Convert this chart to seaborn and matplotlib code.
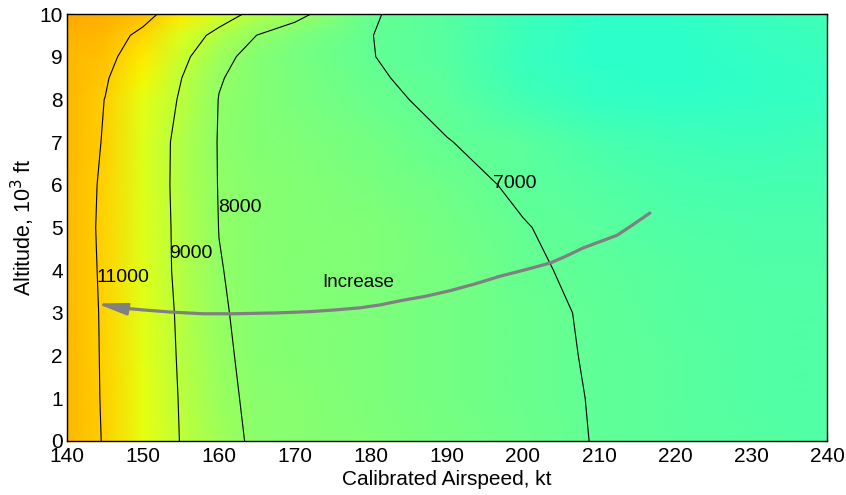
import numpy as np
import pandas as pd
import matplotlib
matplotlib.use("Agg")
import matplotlib.pyplot as plt
import seaborn as sns
from matplotlib.colors import Normalize

# ---------------- data ----------------
airspeed_kt = [140, 145, 150, 155, 160, 165, 170, 180, 190, 200, 210, 220, 230, 240]
altitude_kft = [0, 1, 2, 3, 4, 5, 6, 7, 8, 8.5, 9, 9.5, 10]

row_alt0 = [11450, 10950, 9920, 8960, 8330, 7840, 7780, 7620, 7420, 7200, 6970, 6800, 6700, 6620]
row_alt1 = [11450, 10930, 9880, 8926, 8200, 7830, 7760, 7600, 7400, 7180, 6960, 6790, 6690, 6620]
row_alt2 = [11450, 10920, 9820, 8880, 8130, 7810, 7740, 7580, 7380, 7160, 6940, 6770, 6670, 6600]
row_alt3 = [11400, 10920, 9760, 8840, 8080, 7790, 7730, 7600, 7400, 7150, 6920, 6740, 6650, 6600]
row_alt4 = [11380, 10900, 9700, 8770, 8030, 7790, 7740, 7640, 7450, 7100, 6850, 6700, 6620, 6580]
row_alt5 = [11370, 10880, 9700, 8750, 7990, 7780, 7730, 7620, 7400, 7030, 6780, 6600, 6520, 6500]
row_alt6 = [11380, 10900, 9680, 8720, 7970, 7780, 7720, 7500, 7200, 6900, 6650, 6450, 6380, 6380]
row_alt7 = [11420, 10950, 9700, 8730, 7960, 7750, 7650, 7350, 7020, 6780, 6450, 6250, 6200, 6250]
row_alt8 = [11450, 10990, 9840, 8900, 7980, 7700, 7500, 7150, 6850, 6300, 5950, 5900, 5950, 6050]
row_alt8h = [11450, 11100, 10150, 9020, 8050, 7700, 7480, 7070, 6800, 6200, 5870, 5850, 5920, 6020]
row_alt9 = [11350, 11250, 10500, 9250, 8250, 7700, 7450, 7020, 6700, 6100, 5800, 5800, 5950, 6100]
row_alt9h = [11500, 11400, 10800, 9600, 8700, 7990, 7600, 7010, 6700, 6150, 5850, 5850, 6000, 6180]
row_alt10 = [11700, 11600, 11300, 10500, 9500, 8700, 8250, 7050, 6700, 6200, 5900, 5920, 6080, 6250]

contour_levels = [7000, 8000, 9000, 11000]
label_kt = [196.0, 159.9, 153.5, 143.9]
label_alt = [6.04, 5.46, 4.38, 3.84]

arrow_kt = [216.7, 214.5, 212.4, 210.0, 207.9, 205.8, 203.6, 200.3, 197.0, 193.7,
            190.4, 187.2, 184.0, 181.3, 178.6, 175.3, 172.0, 167.6, 162.0, 157.9,
            153.6, 150.0, 147.0]
arrow_alt = [5.34, 5.07, 4.82, 4.66, 4.52, 4.34, 4.17, 4.01, 3.86, 3.68,
             3.52, 3.39, 3.29, 3.19, 3.12, 3.07, 3.03, 3.00, 2.98, 2.98,
             3.02, 3.07, 3.12]

xticks = [140, 150, 160, 170, 180, 190, 200, 210, 220, 230, 240]
yticks = [0, 1, 2, 3, 4, 5, 6, 7, 8, 9, 10]

# ---------------- figure ----------------
sns.set_style("ticks")
plt.rcParams["font.family"] = ["Liberation Sans", "DejaVu Sans"]
plt.rcParams["text.color"] = "black"
plt.rcParams["axes.labelcolor"] = "black"
plt.rcParams["xtick.color"] = "black"
plt.rcParams["ytick.color"] = "black"

fig = plt.figure(figsize=(8.46, 4.95), dpi=100)
ax = fig.add_axes([67 / 846, 54 / 495, 760 / 846, 427 / 495])

Z = np.array([row_alt0, row_alt1, row_alt2, row_alt3, row_alt4, row_alt5,
              row_alt6, row_alt7, row_alt8, row_alt8h, row_alt9, row_alt9h,
              row_alt10], dtype=float)
X, Y = np.meshgrid(airspeed_kt, altitude_kft)
norm = Normalize(vmin=-1475, vmax=16560)
ax.pcolormesh(X, Y, Z, shading="gouraud", cmap="jet", norm=norm, rasterized=True)
ax.contour(X, Y, Z, levels=contour_levels, colors="k", linewidths=0.8)

for lev, lx, ly in zip(contour_levels, label_kt, label_alt):
    ax.text(lx, ly, f"{lev}", fontsize=14, ha="left", va="center", color="black")

# "Increase" arrow
arrow_df = pd.DataFrame({"kt": arrow_kt, "alt": arrow_alt})
sns.lineplot(data=arrow_df, x="kt", y="alt", sort=False, color="#808080",
             linewidth=2.3, ax=ax, legend=False)
ax.annotate("", xy=(143.9, 3.22), xytext=(arrow_kt[-1], arrow_alt[-1]),
            arrowprops=dict(arrowstyle="-|>,head_length=1.5,head_width=0.3",
                            color="#808080", lw=2.0, mutation_scale=12,
                            shrinkA=0, shrinkB=0))
ax.text(173.6, 3.72, "Increase", fontsize=13.5, ha="left", va="center",
        color="black")

ax.set_xlim(140, 240)
ax.set_ylim(0, 10)
ax.set_xticks(xticks)
ax.set_yticks(yticks)
ax.tick_params(direction="in", top=True, right=True, length=5, width=0.8,
               labelsize=15, pad=3, colors="black")
ax.tick_params(axis="x", pad=4)
for sp in ax.spines.values():
    sp.set_visible(True)
    sp.set_linewidth(1.0)
    sp.set_color("black")
ax.set_xlabel("Calibrated Airspeed, kt", fontsize=15, labelpad=3)
ax.set_ylabel("Altitude, 10$^3$ ft", fontsize=15.5, labelpad=2)

fig.savefig("out.png", dpi=100)
